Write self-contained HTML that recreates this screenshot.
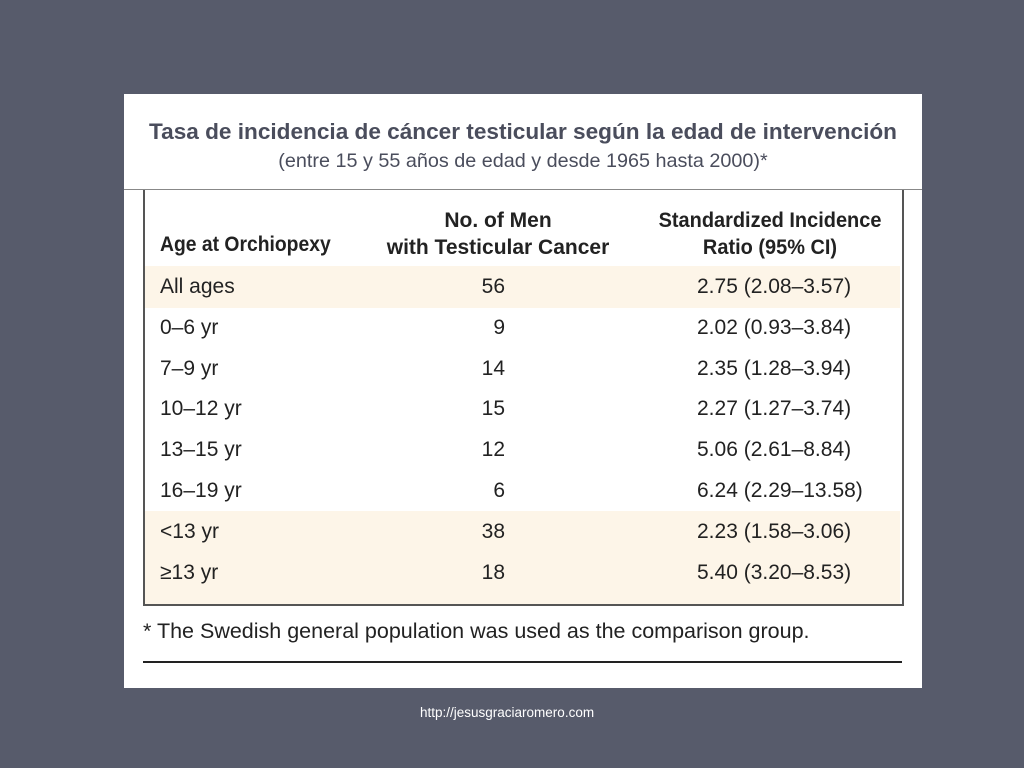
<!DOCTYPE html>
<html><head><meta charset="utf-8"><style>
body{margin:0;width:1024px;height:768px;background:#575b6b;position:relative;overflow:hidden;font-family:"Liberation Sans",sans-serif}
.a{position:absolute;white-space:nowrap}
.t{font-family:"Liberation Sans Narrow","Liberation Sans",sans-serif;color:#222;font-size:21px}
</style></head><body>
<div class="a" style="left:124px;top:94px;width:798px;height:594px;background:#fff"></div>
<div class="a" style="left:124px;width:798px;top:119px;text-align:center;font-weight:bold;font-size:22.6px;color:#4a4d5c">Tasa de incidencia de cáncer testicular según la edad de intervención</div>
<div class="a" style="left:124px;width:798px;top:150px;text-align:center;font-size:19.8px;color:#4a4d5c">(entre 15 y 55 años de edad y desde 1965 hasta 2000)*</div>
<div class="a" style="left:124px;top:189px;width:798px;height:1px;background:#888"></div>
<div class="a" style="left:143px;top:190px;width:757px;height:414px;border:2px solid #555;border-top:none;background:#fff"></div>
<div class="a" style="left:145px;top:266px;width:755px;height:42px;background:#fdf5e8"></div>
<div class="a" style="left:145px;top:511px;width:755px;height:93px;background:#fdf5e8"></div>
<div class="a t" style="left:160px;top:233px;font-weight:bold;transform:scaleX(0.92);transform-origin:left">Age at Orchiopexy</div>
<div class="a t" style="left:380px;width:236px;top:207px;text-align:center;font-weight:bold;line-height:27px">No. of Men<br>with Testicular Cancer</div>
<div class="a t" style="left:640px;width:260px;top:207px;text-align:center;font-weight:bold;line-height:27px;transform:scaleX(0.95)">Standardized Incidence<br>Ratio (95% CI)</div>
<div id="rows"></div>
<div class="a t" style="left:143px;top:619px;font-size:21.5px">* The Swedish general population was used as the comparison group.</div>
<div class="a" style="left:143px;top:661px;width:759px;height:2px;background:#222"></div>
<div class="a" style="left:420px;top:705px;font-size:13.5px;color:#fff">http://jesusgraciaromero.com</div>
<script>
const ages=["All ages","0–6 yr","7–9 yr","10–12 yr","13–15 yr","16–19 yr","<13 yr","≥13 yr"];
const men=["56","9","14","15","12","6","38","18"];
const sir=["2.75 (2.08–3.57)","2.02 (0.93–3.84)","2.35 (1.28–3.94)","2.27 (1.27–3.74)","5.06 (2.61–8.84)","6.24 (2.29–13.58)","2.23 (1.58–3.06)","5.40 (3.20–8.53)"];
const host=document.getElementById('rows');
ages.forEach((a,i)=>{
  const top=275+i*40.8;
  const c1=document.createElement('div');c1.className='a t';c1.style.left='160px';c1.style.top=top+'px';c1.textContent=a;
  
  
  const c2=document.createElement('div');c2.className='a t';c2.style.left='405px';c2.style.width='100px';c2.style.textAlign='right';c2.style.top=top+'px';c2.textContent=men[i];
  
  
  const c3=document.createElement('div');c3.className='a t';c3.style.left='697px';c3.style.top=top+'px';c3.textContent=sir[i];
  
  
  host.append(c1,c2,c3);
});
</script>
</body></html>
